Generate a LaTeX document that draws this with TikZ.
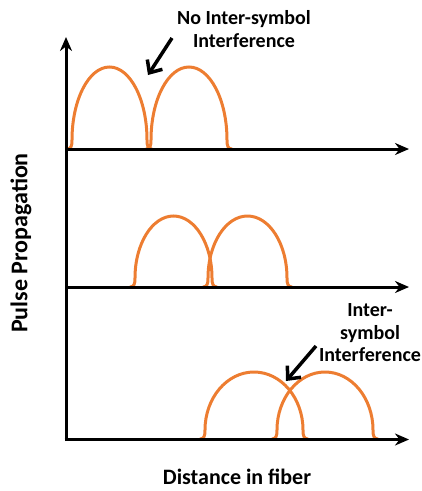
\documentclass[tikz,border=0pt]{standalone}
\usepackage{fontspec}
\setmainfont{Carlito}
\usetikzlibrary{arrows.meta}
\definecolor{pulseorange}{RGB}{237,125,49}
\tikzset{
  axis/.style={line width=3pt,-{Stealth[length=14pt,width=12pt]}},
  pulse/.style={draw=pulseorange,line width=3pt},
  pointer/.style={line width=3.5pt,-{Straight Barb[length=10pt,width=18pt]}},
  lbl/.style={font=\fontsize{20}{22.5}\selectfont\bfseries,align=center,inner sep=0pt}
}
\newcommand{\mypulse}[4]{%
  \pgfmathsetmacro{\puL}{#1}\pgfmathsetmacro{\puR}{#2}%
  \pgfmathsetmacro{\puT}{#3}\pgfmathsetmacro{\puB}{#4}%
  \pgfmathsetmacro{\puC}{(\puL+\puR)/2}\pgfmathsetmacro{\puX}{0.5523*(\puR-\puL)/2}%
  \pgfmathsetmacro{\puS}{\puB-9}\pgfmathsetmacro{\puY}{0.5523*(\puS-\puT)}%
  \draw[pulse] (\puL-5,\puB) .. controls (\puL-1,\puB) and (\puL,\puB-3) .. (\puL,\puS)
    .. controls (\puL,\puS-\puY) and (\puC-\puX,\puT) .. (\puC,\puT)
    .. controls (\puC+\puX,\puT) and (\puR,\puS-\puY) .. (\puR,\puS)
    .. controls (\puR,\puB-3) and (\puR+1,\puB) .. (\puR+5,\puB);}
\begin{document}
\begin{tikzpicture}[x=1pt,y=-1pt]
\useasboundingbox (0,0) rectangle (422,491);
% axes
\coordinate (o) at (66,441);
\coordinate (ytop) at (66,37);
\coordinate (a1s) at (66,149);
\coordinate (a1e) at (409,149);
\coordinate (a2s) at (66,287);
\coordinate (a2e) at (409,287);
\coordinate (a3s) at (64.5,439.5);
\coordinate (a3e) at (409,439.5);
% pulses
\mypulse{72}{147}{67}{149}
\mypulse{151}{227}{67}{149}
\mypulse{135}{212}{216}{287}
\mypulse{208}{287}{216}{287}
\mypulse{205}{303}{372}{439}
\mypulse{277}{373}{372}{439}
\draw[axis] (o) -- (ytop);
\draw[axis] (a1s) -- (a1e);
\draw[axis] (a2s) -- (a2e);
\draw[axis] (a3s) -- (a3e);
% labels
\node[lbl] (t1) at (244,29) {No Inter-symbol\\Interference};
\node[lbl] (t2) at (370,333) {Inter-\\symbol\\Interference};
\node[lbl,font=\fontsize{24}{26}\selectfont\bfseries,rotate=90] (yl) at (21,243) {Pulse Propagation};
\node[lbl,font=\fontsize{22}{24}\selectfont\bfseries] (xl) at (237,477) {Distance in fiber};
% pointers
\coordinate (p1s) at (172,38);
\coordinate (p1e) at (148,75);
\coordinate (p2s) at (316,346);
\coordinate (p2e) at (286,381);
\draw[pointer] (p1s) -- (p1e);
\draw[pointer] (p2s) -- (p2e);
\end{tikzpicture}
\end{document}
